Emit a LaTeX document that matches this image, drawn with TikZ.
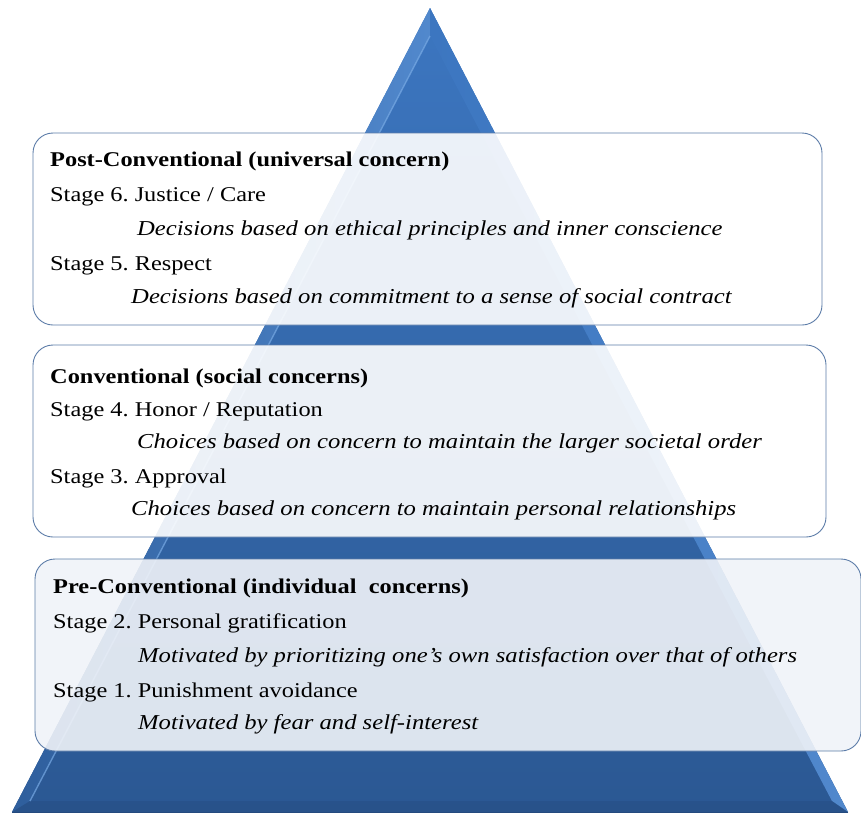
\documentclass[tikz,border=0pt]{standalone}
\usepackage{fontspec}
\setmainfont{LiberationSerif}[Extension=.ttf, UprightFont=*-Regular,
  BoldFont=*-Bold, ItalicFont=*-Italic, BoldItalicFont=*-BoldItalic,
  FakeStretch=1.16]
\frenchspacing
\usetikzlibrary{calc}

\definecolor{pyrtop}{RGB}{60,118,192}
\definecolor{pyrbot}{RGB}{43,88,147}
\definecolor{pyrlite}{RGB}{120,170,228}
\definecolor{pyrdark}{RGB}{36,74,126}
\definecolor{boxline}{RGB}{92,124,168}
\definecolor{boxtint}{RGB}{228,234,242}

\begin{document}
\begin{tikzpicture}[
  x=1pt, y=-1pt,
  box/.style={draw=boxline, line width=0.9pt, rounded corners=20pt, inner sep=0pt},
  hd/.style={anchor=base west, inner sep=0pt, font=\fontsize{21}{25}\selectfont\bfseries},
  stg/.style={anchor=base west, inner sep=0pt, font=\fontsize{21}{25}\selectfont},
  dsc/.style={anchor=base west, inner sep=0pt, font=\fontsize{21.25}{25}\selectfont\itshape},
]
\useasboundingbox (0,0) rectangle (861,814);

% ====== Pyramid ======
\coordinate (apex) at (430,8);
\coordinate (bl) at (12,812);
\coordinate (br) at (848,812);
\coordinate (iapex) at (430,36);
\coordinate (ibl) at (30,801);
\coordinate (ibr) at (832,801);

\shade[top color=pyrtop, bottom color=pyrbot] (apex) -- (bl) -- (br) -- cycle;
% bevels
\shade[left color=pyrbot!80!pyrtop, right color=pyrlite!35!pyrtop]
  (apex) -- (bl) -- (ibl) -- (iapex) -- cycle;
\shade[left color=pyrtop, right color=pyrlite!35!pyrtop]
  (apex) -- (iapex) -- (ibr) -- (br) -- cycle;
\fill[pyrdark, opacity=0.4] (bl) -- (ibl) -- (ibr) -- (br) -- cycle;
\draw[pyrlite, line width=1.4pt, opacity=0.7] (iapex) -- (ibl);
\draw[pyrdark, line width=0.6pt] (bl) -- (br);

% ====== Level boxes ======
\node[box, fill=white, fill opacity=0.9, minimum width=789pt, minimum height=192pt]
  (post) at (427.5,229) {};
\node[box, fill=white, fill opacity=0.9, minimum width=793pt, minimum height=192pt]
  (conv) at (429.5,441) {};
\node[box, fill=boxtint!55!white, fill opacity=0.9,
  minimum width=826pt, minimum height=192pt]
  (pre) at (448,655) {};

% ====== Texts ======
\node[hd]  (postT) at (50,166.5) {Post-Conventional (universal concern)};
\node[stg] (s6)    at (50,201.5) {Stage 6. Justice / Care};
\node[dsc] (s6d)   at (137,235) {Decisions based on ethical principles and inner conscience};
\node[stg] (s5)    at (50,270.5) {Stage 5. Respect};
\node[dsc] (s5d)   at (131,303) {Decisions based on commitment to a sense of social contract};

\node[hd]  (convT) at (50,383.5) {Conventional (social concerns)};
\node[stg] (s4)    at (50,416.5) {Stage 4. Honor / Reputation};
\node[dsc] (s4d)   at (137,448) {Choices based on concern to maintain the larger societal order};
\node[stg] (s3)    at (50,483.5) {Stage 3. Approval};
\node[dsc] (s3d)   at (131,515) {Choices based on concern to maintain personal relationships};

\node[hd]  (preT)  at (53,593.5) {Pre-Conventional (individual~ concerns)};
\node[stg] (s2)    at (53,628.5) {Stage 2. Personal gratification};
\node[dsc] (s2d)   at (138,662) {Motivated by prioritizing one's own satisfaction over that of others};
\node[stg] (s1)    at (53,697.5) {Stage 1. Punishment avoidance};
\node[dsc] (s1d)   at (138,729) {Motivated by fear and self-interest};

\end{tikzpicture}
\end{document}
